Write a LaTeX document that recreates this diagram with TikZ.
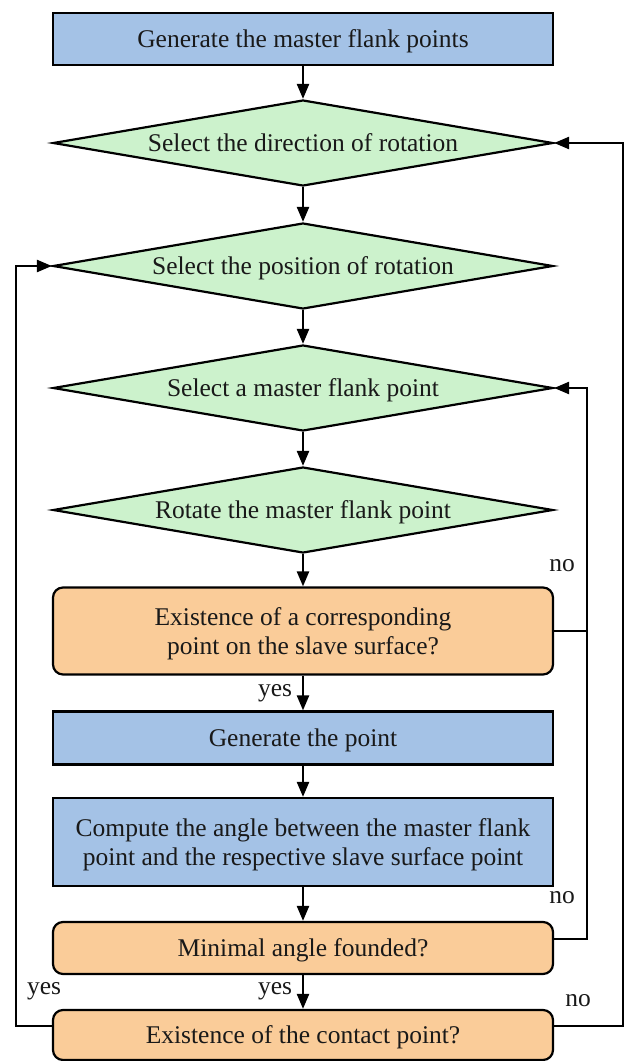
\documentclass[tikz,border=0pt]{standalone}
\usepackage{fontspec}
\setmainfont{Liberation Serif}
\usetikzlibrary{shapes.geometric,arrows.meta}
\definecolor{bluefill}{RGB}{164,194,230}
\definecolor{greenfill}{RGB}{204,242,204}
\definecolor{orangefill}{RGB}{250,204,153}
\begin{document}
\begin{tikzpicture}[x=1pt,y=-1pt,
  font=\fontsize{25.5}{29}\selectfont,
  base/.style={draw=black, line width=2.2pt, inner sep=0pt, align=center, text=black!90, text depth=0pt},
  procbox/.style={base, rectangle, fill=bluefill, minimum width=500pt},
  decbox/.style={base, rectangle, rounded corners=10pt, fill=orangefill, minimum width=500pt},
  selbox/.style={base, diamond, fill=greenfill, minimum width=500pt, minimum height=86pt, aspect=5.8},
  arr/.style={line width=2.4pt, -{Triangle[length=15pt,width=12pt]}},
  ln/.style={line width=2.4pt},
  lbl/.style={inner sep=0pt, text=black!90, text depth=0pt}]
\useasboundingbox (0,0) rectangle (625,1061);
\node[procbox, minimum height=52pt] (b1) at (303,39) {Generate the master flank points};
\node[selbox] (d1) at (303,143) {Select the direction of rotation};
\node[selbox] (d2) at (303,266) {Select the position of rotation};
\node[selbox] (d3) at (303,388) {Select a master flank point};
\node[selbox] (d4) at (303,510) {Rotate the master flank point};
\node[decbox, minimum height=87pt] (o1) at (303,631) {Existence of a corresponding\\point on the slave surface?};
\node[procbox, minimum height=53pt] (b2) at (303,738) {Generate the point};
\node[procbox, minimum height=88pt] (b3) at (303,842) {Compute the angle between the master flank\\point and the respective slave surface point};
\node[decbox, minimum height=52pt] (o2) at (303,948) {Minimal angle founded?};
\node[decbox, minimum height=50pt] (o3) at (303,1035) {Existence of the contact point?};
\coordinate (xl) at (16,0);
\coordinate (xr1) at (587,0);
\coordinate (xr2) at (623,0);
\draw[arr] (b1) -- (d1);
\draw[arr] (d1) -- (d2);
\draw[arr] (d2) -- (d3);
\draw[arr] (d3) -- (d4);
\draw[arr] (d4) -- (o1);
\draw[arr] (o1) -- (b2);
\draw[arr] (b2) -- (b3);
\draw[arr] (b3) -- (o2);
\draw[arr] (o2) -- (o3);
\draw[arr] (o1.east) -- (o1.east -| xr1) |- (d3.east);
\draw[ln] ([yshift=9pt]o2.east) -| (o1.east -| xr1);
\draw[arr] ([yshift=9pt]o3.east) -- ([yshift=9pt]o3.east -| xr2) |- (d1.east);
\draw[arr] ([yshift=9pt]o3.west) -- ([yshift=9pt]o3.west -| xl) |- (d2.west);
\node[lbl] (n1) at (562,565) {no};
\node[lbl] (y1) at (275,690) {yes};
\node[lbl] (n2) at (562,897) {no};
\node[lbl] (y2) at (44,988) {yes};
\node[lbl] (y3) at (275,988) {yes};
\node[lbl] (n3) at (578,1000) {no};
\end{tikzpicture}
\end{document}
